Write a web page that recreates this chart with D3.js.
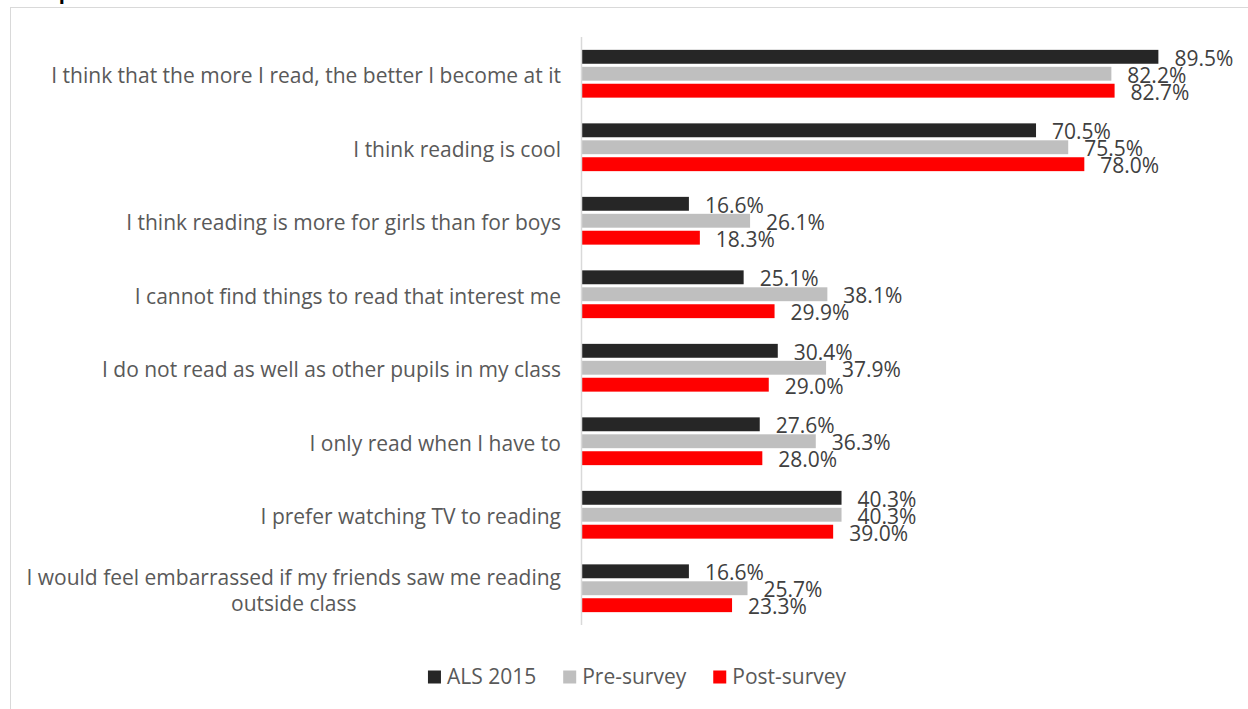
<!DOCTYPE html>
<html><head><meta charset="utf-8">
<script src="https://cdn.jsdelivr.net/npm/d3@7"></script>
<style>
html,body{margin:0;padding:0;background:#fff;}
svg{display:block;font-family:"Open Sans",sans-serif;}
</style></head>
<body><svg id="c" width="1248" height="709"></svg>
<script>
const categories = [
  "I think that the more I read, the better I become at it",
  "I think reading is cool",
  "I think reading is more for girls than for boys",
  "I cannot find things to read that interest me",
  "I do not read as well as other pupils in my class",
  "I only read when I have to",
  "I prefer watching TV to reading",
  "I would feel embarrassed if my friends saw me reading|outside class"
];
const seriesNames = ["ALS 2015", "Pre-survey", "Post-survey"];
const seriesColors = ["#262626", "#bfbfbf", "#ff0000"];
const als2015 = [89.5, 70.5, 16.6, 25.1, 30.4, 27.6, 40.3, 16.6];
const preSurvey = [82.2, 75.5, 26.1, 38.1, 37.9, 36.3, 40.3, 25.7];
const postSurvey = [82.7, 78.0, 18.3, 29.9, 29.0, 28.0, 39.0, 23.3];
const seriesValues = [als2015, preSurvey, postSurvey];

const FS = 21;
const svg = d3.select("#c");
// chart frame
svg.append("rect").attr("x", 10.5).attr("y", 7.5).attr("width", 1300).attr("height", 800)
  .attr("fill", "none").attr("stroke", "#d9d9d9").attr("stroke-width", 1);
// cut-off title
svg.append("text").attr("x", 14).attr("y", -1).attr("font-weight", "bold").attr("font-size", 20)
  .attr("fill", "#000").text("Comparison with ALS 2015");

const x = d3.scaleLinear().domain([0, 100]).range([582, 1226]);
const y = d3.scaleBand().domain(categories).range([37, 625]).paddingInner(0.35).paddingOuter(0.175);
const ys = d3.scaleBand().domain(seriesNames).range([0, y.bandwidth()]).paddingInner(0.18);

const g = svg.append("g");
categories.forEach((c, i) => {
  const gg = g.append("g").attr("transform", `translate(0,${y(c)})`);
  seriesNames.forEach((s, j) => {
    const v = seriesValues[j][i];
    gg.append("rect").attr("x", x(0)).attr("y", ys(s))
      .attr("width", x(v) - x(0)).attr("height", ys.bandwidth())
      .attr("fill", seriesColors[j]);
    gg.append("text").attr("x", x(v) + 16).attr("y", ys(s) + ys.bandwidth() / 2 + 1.5)
      .attr("dy", "0.35em").attr("font-size", FS).attr("fill", "#404040")
      .text(v.toFixed(1) + "%");
  });
});

// axis line
svg.append("line").attr("x1", 581.5).attr("x2", 581.5).attr("y1", 37).attr("y2", 625)
  .attr("stroke", "#d9d9d9").attr("stroke-width", 1.5);

// category labels
categories.forEach(c => {
  const lines = c.split("|");
  const cy = y(c) + y.bandwidth() / 2 + 2;
  if (lines.length === 1) {
    svg.append("text").attr("x", 561).attr("y", cy).attr("dy", "0.35em")
      .attr("text-anchor", "end").attr("font-size", FS).attr("fill", "#595959").text(lines[0]);
  } else {
    const t1 = svg.append("text").attr("x", 561).attr("y", cy - 13).attr("dy", "0.35em")
      .attr("text-anchor", "end").attr("font-size", FS).attr("fill", "#595959").text(lines[0]);
    const w = t1.node().getComputedTextLength();
    svg.append("text").attr("x", 561 - w / 2).attr("y", cy + 13).attr("dy", "0.35em")
      .attr("text-anchor", "middle").attr("font-size", FS).attr("fill", "#595959").text(lines[1]);
  }
});

// legend
const legend = svg.append("g");
let lx = 0;
seriesNames.forEach((s, j) => {
  const it = legend.append("g");
  it.append("rect").attr("x", 0).attr("y", -6.5).attr("width", 13).attr("height", 13).attr("fill", seriesColors[j]);
  const t = it.append("text").attr("x", 19).attr("y", 0).attr("dy", "0.35em")
    .attr("font-size", FS).attr("fill", "#595959").text(s);
  const w = 19 + t.node().getComputedTextLength();
  it.attr("transform", `translate(${lx},0)`);
  lx += w + 27;
});
const total = lx - 27;
legend.attr("transform", `translate(${637 - total / 2},677)`);
</script></body></html>
